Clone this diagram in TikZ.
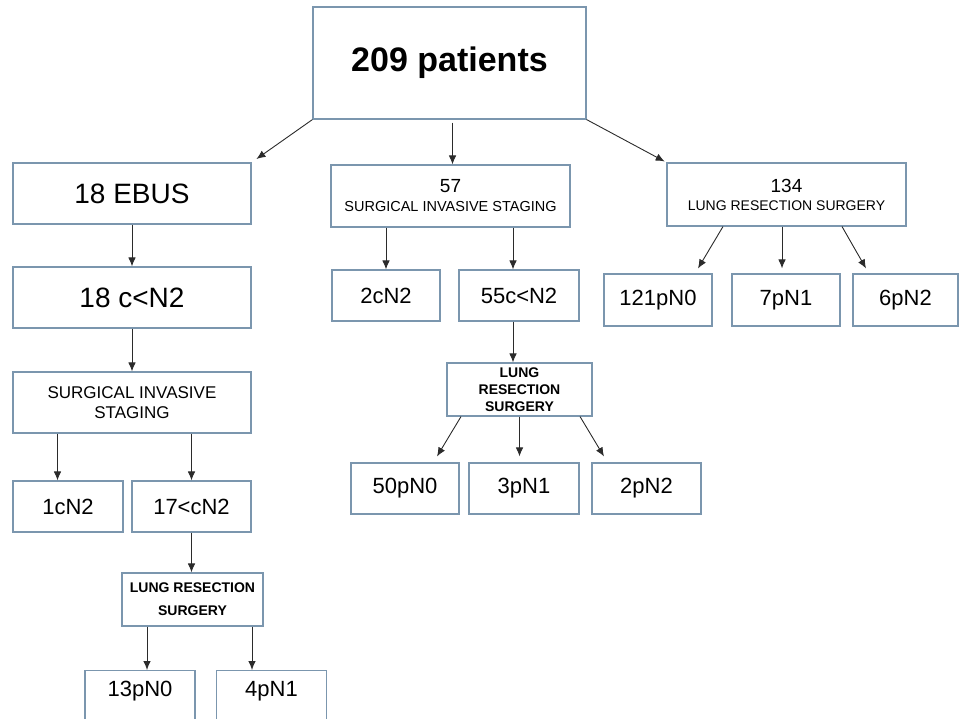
\documentclass[tikz,border=0pt]{standalone}
\usepackage{fontspec}
\setmainfont{Liberation Sans}
\usetikzlibrary{arrows.meta,positioning}
\definecolor{frame}{HTML}{7B96AE}
\definecolor{ink}{HTML}{2B2B2B}

\begin{document}
\begin{tikzpicture}[x=1pt,y=-1pt,>={Latex[length=9pt,width=7.5pt]}]
  \tikzstyle{box}=[draw=frame,line width=1.1pt,inner sep=0pt,align=center,font=\fontsize{22}{26}\selectfont]
  \tikzstyle{big}=[box,minimum width=238pt,minimum height=61pt,font=\fontsize{28}{32}\selectfont]
  \tikzstyle{caps}=[box,font=\fontsize{17}{20}\selectfont]
  \tikzstyle{lrs}=[box,font=\bfseries\fontsize{14}{17}\selectfont]
  \tikzstyle{leaf}=[box,minimum width=108pt,minimum height=51pt]
  \tikzstyle{cut}=[box,anchor=north,minimum width=110pt,minimum height=60pt,text height=16pt,text depth=24pt]
  \tikzstyle{arr}=[->,draw=ink,line width=0.9pt]
  \path[use as bounding box,clip] (0,0) rectangle (960,718);
  % top
  \node[box,minimum width=273pt,minimum height=112pt,font=\bfseries\fontsize{34}{38}\selectfont] (top) at (449.5,63) {209 patients};
  % left branch
  \node[big] (ebus) at (132,193.5) {18 EBUS};
  \node[big] (lcn2) at (132,297.5) {18 c<N2};
  \node[caps,minimum width=238pt,minimum height=61pt] (lsis) at (132,402.5) {SURGICAL INVASIVE\\STAGING};
  \node[leaf,minimum width=110pt] (l1) at (68,506.5) {1cN2};
  \node[leaf,minimum width=119pt] (l17) at (191.5,506.5) {17<cN2};
  \node[lrs,minimum width=141pt,minimum height=53pt,font=\bfseries\fontsize{14}{23}\selectfont] (llrs) at (192.5,599.5) {LUNG RESECTION\\SURGERY};
  \node[cut] (l13) at (140,670) {13pN0};
  \node[cut] (l4) at (271.5,670) {4pN1};
  % middle branch
  \node[box,minimum width=239pt,minimum height=62pt,font=\fontsize{14.5}{19}\selectfont] (m57) at (450.5,196) {{\fontsize{19}{19}\selectfont 57}\\SURGICAL INVASIVE STAGING};
  \node[leaf] (m2) at (386,295.5) {2cN2};
  \node[leaf,minimum width=120pt] (m55) at (519,295.5) {55c<N2};
  \node[lrs,minimum width=145pt,minimum height=53pt] (mlrs) at (519.5,389.5) {LUNG\\RESECTION\\SURGERY};
  \node[leaf] (m50) at (405,488.5) {50pN0};
  \node[leaf,minimum width=110pt] (m3) at (524,488.5) {3pN1};
  \node[leaf,minimum width=109pt] (m2p) at (646.5,488.5) {2pN2};
  % right branch
  \node[box,minimum width=239pt,minimum height=63pt,font=\fontsize{14}{18}\selectfont] (r134) at (786.5,194.5) {{\fontsize{19}{18}\selectfont 134}\\LUNG RESECTION SURGERY};
  \node[leaf,minimum height=52pt] (r121) at (658,300) {121pN0};
  \node[leaf,minimum height=52pt] (r7) at (786,300) {7pN1};
  \node[leaf,minimum width=105pt,minimum height=52pt] (r6) at (905.5,300) {6pN2};
  % arrows from the top
  \draw[arr,shorten >=6pt] (top.south west) -- (ebus.north east);
  \draw[arr,shorten <=3pt] ([xshift=3pt]top.south) -- ([xshift=3pt]top.south |- m57.north);
  \draw[arr,shorten >=2pt] (top.south east) -- (r134.north west);
  % left arrows
  \draw[arr] (ebus) -- (lcn2);
  \draw[arr] (lcn2) -- (lsis);
  \coordinate (a1) at ([xshift=-74.5pt]lsis.south);
  \draw[arr] (a1) -- (a1 |- l1.north);
  \draw[arr] (lsis.south -| l17) -- (l17);
  \draw[arr] (l17.south) -- (l17.south |- llrs.north);
  \coordinate (a2) at ([xshift=-45.5pt]llrs.south);
  \coordinate (a3) at ([xshift=59.5pt]llrs.south);
  \draw[arr] (a2) -- (a2 |- l13.north);
  \draw[arr] (a3) -- (a3 |- l4.north);
  % middle arrows
  \draw[arr] (m57.south -| m2) -- (m2);
  \coordinate (b1) at ([xshift=62.5pt]m57.south);
  \draw[arr] (b1) -- (b1 |- m55.north);
  \coordinate (b2) at ([xshift=-6pt]m55.south);
  \draw[arr] (b2) -- (b2 |- mlrs.north);
  \draw[arr] ([xshift=-58.5pt]mlrs.south) -- ([xshift=32pt,yshift=6pt]m50.north);
  \draw[arr,shorten >=6pt] (mlrs.south) -- (mlrs.south |- m3.north);
  \draw[arr] ([xshift=60.5pt]mlrs.south) -- ([xshift=-42.5pt,yshift=6pt]m2p.north);
  % right arrows
  \draw[arr] ([xshift=-63.5pt]r134.south) -- ([xshift=40pt,yshift=5pt]r121.north);
  \draw[arr,shorten >=5pt] ([xshift=-4.5pt]r134.south) -- ([xshift=-4.5pt]r134.south |- r7.north);
  \draw[arr] ([xshift=55.5pt]r134.south) -- ([xshift=-39.5pt,yshift=5pt]r6.north);
\end{tikzpicture}
\end{document}
